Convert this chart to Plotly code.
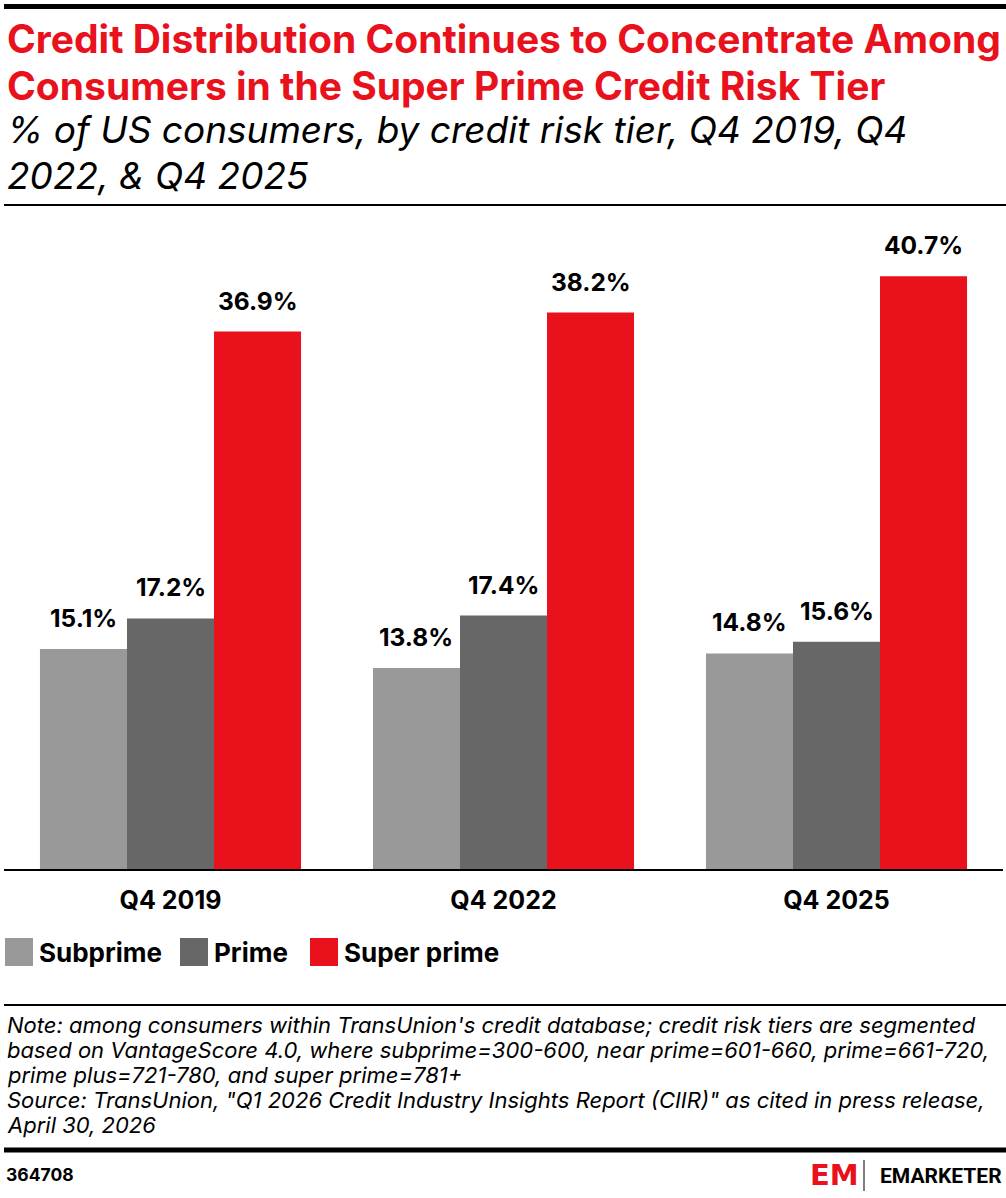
import plotly.graph_objects as go

# ---- data ----
categories = ["Q4 2019", "Q4 2022", "Q4 2025"]
series_names = ["Subprime", "Prime", "Super prime"]
subprime = [15.1, 13.8, 14.8]
prime = [17.2, 17.4, 15.6]
super_prime = [36.9, 38.2, 40.7]
series_values = [subprime, prime, super_prime]
series_colors = ["#999999", "#676767", "#E8111C"]

title_lines = ["Credit Distribution Continues to Concentrate Among",
               "Consumers in the Super Prime Credit Risk Tier"]
subtitle_lines = ["% of US consumers, by credit risk tier, Q4 2019, Q4",
                  "2022, & Q4 2025"]
note_lines = [
    "Note: among consumers within TransUnion's credit database; credit risk tiers are segmented",
    "based on VantageScore 4.0, where subprime=300-600, near prime=601-660, prime=661-720,",
    "prime plus=721-780, and super prime=781+",
    "Source: TransUnion, \"Q1 2026 Credit Industry Insights Report (CIIR)\" as cited in press release,",
    "April 30, 2026",
]
chart_id = "364708"

# ---- layout geometry (pixels) ----
W, H = 1006, 1198
ML, MR, MT, MB = 4, 3, 215, 329
PLOT_W = W - ML - MR
PLOT_H = H - MT - MB
BASE_Y = H - MB
FONT = "Inter"
RED = "#E8111C"


def px(x):
    return (x - ML) / PLOT_W


def py(y):
    return (BASE_Y - y) / PLOT_H


fig = go.Figure()
for name, vals, col in zip(series_names, series_values, series_colors):
    fig.add_trace(go.Bar(
        x=categories, y=vals, name=name, marker_color=col,
        marker_line_width=0, showlegend=False,
        hovertemplate="%{x}<br>" + name + ": %{y:.1f}%<extra></extra>",
    ))

annotations = []
# data labels above bars
bar_w = PLOT_W / len(categories) * (1 - 0.216) / len(series_names)
for si, (name, vals) in enumerate(zip(series_names, series_values)):
    shift = (si - (len(series_names) - 1) / 2) * bar_w
    for cat, v in zip(categories, vals):
        annotations.append(dict(
            x=cat, y=v, xref="x", yref="y", text=f"<b>{v:.1f}%</b>",
            showarrow=False, xanchor="center", yanchor="bottom",
            xshift=shift, yshift=14,
            font=dict(family=FONT, size=24.5, color="#000000"),
        ))

# title
for t, yy in zip(title_lines, [39, 85]):
    annotations.append(dict(
        x=px(5), y=py(yy), xref="paper", yref="paper", text=f"<b>{t}</b>",
        showarrow=False, xanchor="left", yanchor="middle",
        font=dict(family=FONT, size=39, color=RED),
    ))
for t, yy in zip(subtitle_lines, [130, 175]):
    annotations.append(dict(
        x=px(5), y=py(yy), xref="paper", yref="paper", text=f"<i>{t}</i>",
        showarrow=False, xanchor="left", yanchor="middle",
        font=dict(family=FONT, size=37, color="#000000"),
    ))

# legend (manual, large swatches)
shapes = []
legend_x = [5, 180, 310]
for name, col, lx in zip(series_names, series_colors, legend_x):
    shapes.append(dict(type="rect", xref="paper", yref="paper",
                       x0=px(lx), x1=px(lx + 28), y0=py(966), y1=py(938),
                       fillcolor=col, line_width=0))
    annotations.append(dict(
        x=px(lx + 32), y=py(952), xref="paper", yref="paper",
        text=f"<b>{name}</b>", showarrow=False, xanchor="left", yanchor="middle",
        font=dict(family=FONT, size=26, color="#000000"),
    ))

# notes
for i, t in enumerate(note_lines):
    annotations.append(dict(
        x=px(5), y=py(1025 + 25 * i), xref="paper", yref="paper",
        text=f"<i>{t}</i>", showarrow=False, xanchor="left", yanchor="middle",
        font=dict(family=FONT, size=22, color="#000000"),
    ))

# footer
annotations.append(dict(
    x=px(4), y=py(1174), xref="paper", yref="paper", text=f"<b>{chart_id}</b>",
    showarrow=False, xanchor="left", yanchor="middle",
    font=dict(family=FONT, size=17.5, color="#000000"),
))
annotations.append(dict(
    x=px(808), y=py(1175), xref="paper", yref="paper", text="<b>EM</b>",
    showarrow=False, xanchor="left", yanchor="middle",
    font=dict(family="DejaVu Sans", size=29, color=RED),
))
annotations.append(dict(
    x=px(1004), y=py(1176), xref="paper", yref="paper", text="<b>EMARKETER</b>",
    showarrow=False, xanchor="right", yanchor="middle",
    font=dict(family="Roboto", size=21, color="#000000"),
))

# rules
shapes.append(dict(type="line", xref="paper", yref="paper", x0=px(4), x1=px(W),
                   y0=py(6.5), y1=py(6.5), line=dict(color="#000000", width=5)))
shapes.append(dict(type="line", xref="paper", yref="paper", x0=px(4), x1=px(W),
                   y0=py(205), y1=py(205), line=dict(color="#000000", width=2)))
shapes.append(dict(type="line", xref="paper", yref="paper", x0=px(4), x1=px(W),
                   y0=py(1005), y1=py(1005), line=dict(color="#000000", width=2)))
shapes.append(dict(type="line", xref="paper", yref="paper", x0=px(4), x1=px(W),
                   y0=py(1150), y1=py(1150), line=dict(color="#000000", width=5)))
shapes.append(dict(type="line", xref="paper", yref="paper", x0=px(864), x1=px(864),
                   y0=py(1160), y1=py(1191), line=dict(color="#000000", width=1)))

fig.update_layout(
    width=W, height=H,
    margin=dict(l=ML, r=MR, t=MT, b=MB, pad=0),
    paper_bgcolor="#ffffff", plot_bgcolor="#ffffff",
    barmode="group", bargap=0.216, bargroupgap=0,
    showlegend=False,
    annotations=annotations, shapes=shapes,
    font=dict(family=FONT, color="#000000"),
)
fig.update_xaxes(
    type="category", range=[-0.5, len(categories) - 0.5],
    showline=True, linecolor="#000000", linewidth=2,
    ticks="", showgrid=False, zeroline=False,
    tickfont=dict(family=FONT, size=25, color="#000000"),
    tickprefix="<b>", ticksuffix="</b>", ticklabelstandoff=8,
)
fig.update_yaxes(
    range=[0, 44.9], visible=False, showgrid=False, zeroline=False,
)

fig.write_html(
    "out.html",
    config={"displayModeBar": False},
    post_script="document.body.style.margin='0px';document.body.style.overflow='hidden';",
)
